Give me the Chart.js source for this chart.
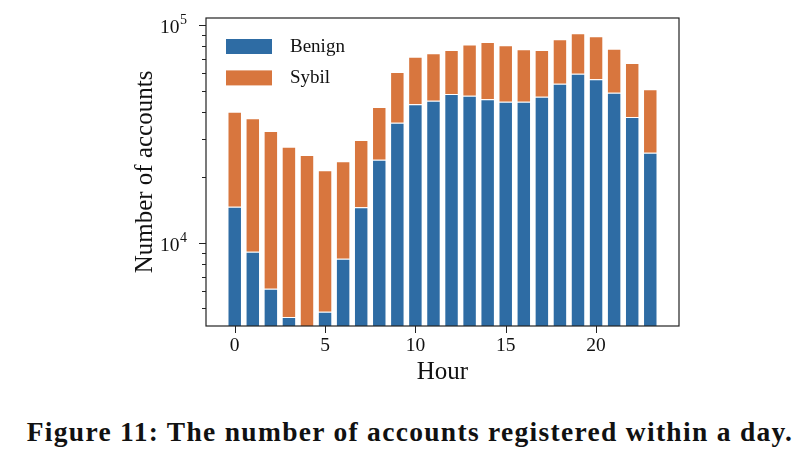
<!DOCTYPE html>
<html><head><meta charset="utf-8">
<script src="https://cdn.jsdelivr.net/npm/chart.js@4.4.1/dist/chart.umd.min.js"></script>
<style>
html,body{margin:0;padding:0;background:#fff;}
#wrap{position:relative;width:804px;height:466px;overflow:hidden;}
#c{position:absolute;left:0;top:0;}
#cap{position:absolute;left:8px;top:417px;width:804px;text-align:center;font-family:"Liberation Serif",serif;font-weight:bold;font-size:27.5px;letter-spacing:1.3px;line-height:30px;color:#111;white-space:nowrap;}
</style></head>
<body><div id="wrap"><canvas id="c" width="804" height="400"></canvas><div id="cap">Figure 11: The number of accounts registered within a day.</div></div>
<script>
const hours = [0,1,2,3,4,5,6,7,8,9,10,11,12,13,14,15,16,17,18,19,20,21,22,23];
const benign = [14640,9090,6145,4570,3900,4820,8440,14550,24060,35580,43230,44900,48200,47340,45570,44430,44430,46840,53760,59740,56320,48870,37790,25910];
const sybil = [25360,28180,26455,23040,21380,16680,15210,15085,17950,25240,28290,29230,28580,33870,37990,36260,32910,29940,32210,31860,32420,28950,29100,24740];
const seriesNames = ['Benign','Sybil'];
const xTicks = [0,5,10,15,20];
const yMajorTicks = [10000,100000];
const yMajorBase = ['10','10'];
const yMajorExp = ['4','5'];
const yMinorTicks = [5000,6000,7000,8000,9000,20000,30000,40000,50000,60000,70000,80000,90000];
const xTitle = 'Hour';
const yTitle = 'Number of accounts';

const BLUE = '#2e6ca4';
const ORANGE = '#d8763e';
const FONT = '"Liberation Serif", "Times New Roman", serif';

const decor = {
  id: 'decor',
  afterDraw(chart) {
    const ctx = chart.ctx, a = chart.chartArea;
    const xs = chart.scales.x, ys = chart.scales.y;
    ctx.save();
    ctx.strokeStyle = '#222';
    ctx.lineWidth = 1.2;
    ctx.strokeRect(a.left, a.top, a.right - a.left, a.bottom - a.top);
    ctx.lineWidth = 1;
    ys.ticks.forEach(t => {
      const p = Math.round(ys.getPixelForValue(t.value)) + 0.5;
      const len = yMajorTicks.includes(t.value) ? 7 : 4;
      ctx.beginPath(); ctx.moveTo(a.left - len, p); ctx.lineTo(a.left, p); ctx.stroke();
    });
    xs.ticks.forEach(t => {
      const p = Math.round(xs.getPixelForValue(t.value)) + 0.5;
      ctx.beginPath(); ctx.moveTo(p, a.bottom); ctx.lineTo(p, a.bottom + 7); ctx.stroke();
    });
    // y major labels with superscript exponent
    ctx.fillStyle = '#111';
    ctx.textBaseline = 'alphabetic';
    yMajorTicks.forEach((v, k) => {
      const p = ys.getPixelForValue(v);
      ctx.font = '14px ' + FONT;
      const ew = ctx.measureText(yMajorExp[k]).width;
      ctx.textAlign = 'right';
      const xr = a.left - 19;
      ctx.fillText(yMajorExp[k], xr, p - 1);
      ctx.font = '19.5px ' + FONT;
      ctx.fillText(yMajorBase[k], xr - ew - 0.5, p + 8);
    });
    // legend
    const ds = chart.data.datasets;
    ctx.font = '19px ' + FONT;
    ctx.textAlign = 'left';
    ctx.textBaseline = 'middle';
    ds.forEach((d, i) => {
      const bx = a.left + 20, by = a.top + 21 + i * 31.4;
      ctx.fillStyle = d.backgroundColor;
      ctx.fillRect(bx, by, 46, 15);
      ctx.fillStyle = '#111';
      ctx.fillText(d.label, bx + 64, by + 8);
    });
    ctx.restore();
  }
};

const ctx = document.getElementById('c').getContext('2d');
new Chart(ctx, {
  type: 'bar',
  data: {
    labels: hours,
    datasets: [
      { label: seriesNames[0], data: hours.map((h, i) => ({x: h, y: benign[i]})), backgroundColor: BLUE, borderColor: 'rgba(255,255,255,0.6)', borderWidth: 1, stack: 's', clip: 0 },
      { label: seriesNames[1], data: hours.map((h, i) => ({x: h, y: sybil[i]})), backgroundColor: ORANGE, borderColor: 'rgba(255,255,255,0.6)', borderWidth: 1, stack: 's', clip: 0 }
    ]
  },
  options: {
    responsive: false,
    animation: false,
    devicePixelRatio: 1,
    barPercentage: 0.8,
    categoryPercentage: 1.0,
    layout: { padding: { left: 130, right: 125, top: 18, bottom: 13 } },
    plugins: { legend: { display: false }, tooltip: { enabled: false } },
    scales: {
      x: {
        type: 'linear', stacked: true, offset: false,
        min: -1.59, max: 24.59,
        afterBuildTicks: s => { s.ticks = xTicks.map(v => ({value: v})); },
        afterFit: s => { s.height = 61; },
        grid: { display: false, drawTicks: false, offset: false },
        border: { display: false },
        ticks: { autoSkip: false, maxRotation: 0, padding: 8, color: '#111', font: { family: FONT, size: 19.5 }, callback: v => String(v) },
        title: { display: true, text: xTitle, color: '#111', padding: 0, font: { family: FONT, size: 25 } }
      },
      y: {
        type: 'logarithmic', stacked: true,
        min: 4150, max: 107600,
        afterBuildTicks: s => { s.ticks = yMinorTicks.concat(yMajorTicks).sort((a, b) => a - b).map(v => ({value: v})); },
        afterFit: s => { s.width = 76; },
        grid: { display: false, drawTicks: false },
        border: { display: false },
        ticks: { autoSkip: false, padding: 0, color: '#111', font: { family: FONT, size: 1, lineHeight: 0 }, callback: () => '' },
        title: { display: true, text: yTitle, color: '#111', padding: 0, font: { family: FONT, size: 25 } }
      }
    }
  },
  plugins: [decor]
});
</script>
</body></html>
